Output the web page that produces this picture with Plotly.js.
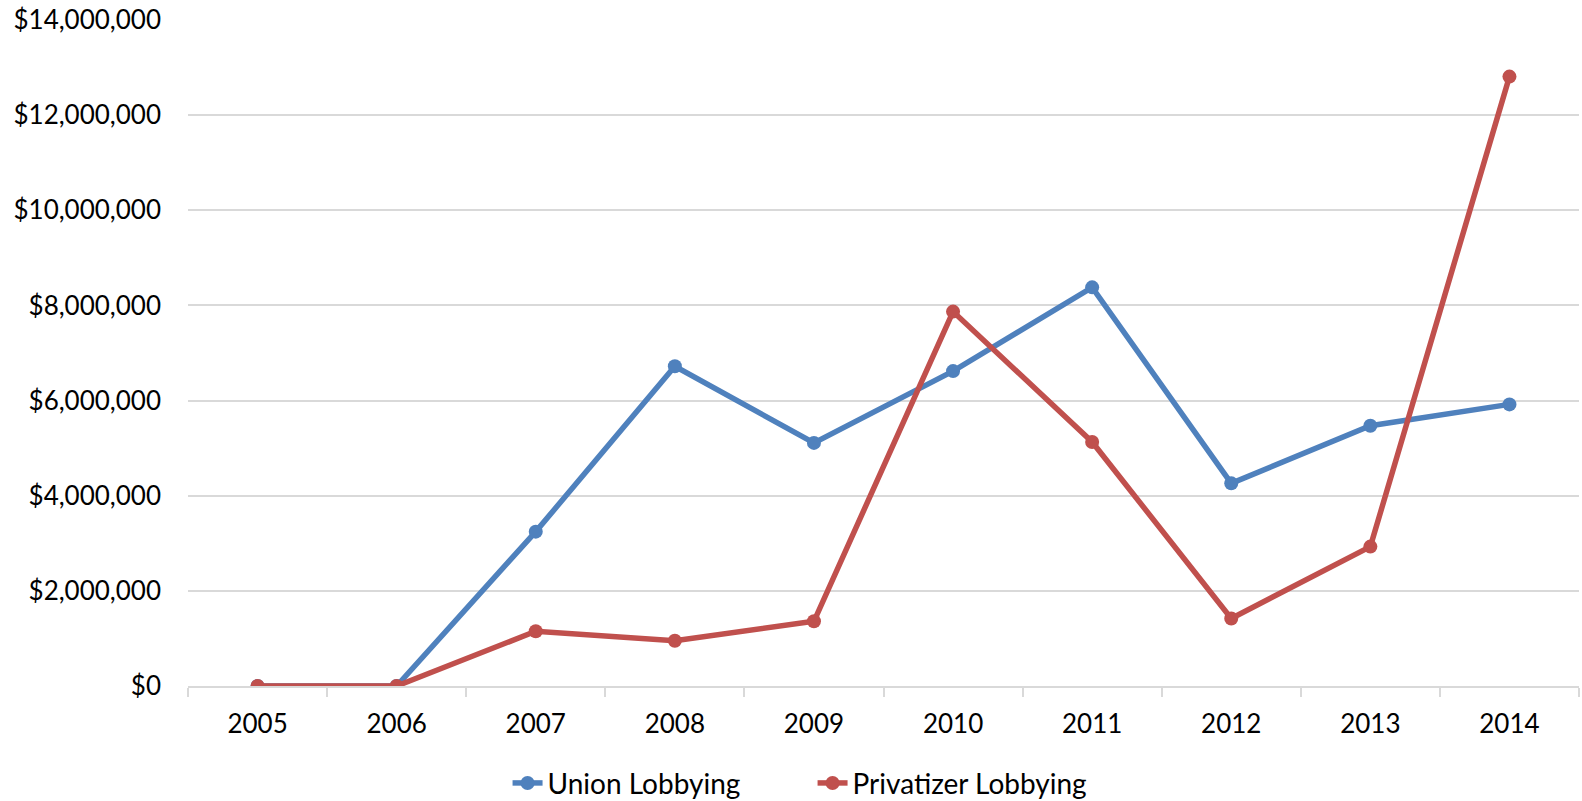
<!DOCTYPE html>
<html>
<head>
<meta charset="utf-8">
<script src="https://cdn.plot.ly/plotly-3.0.1.min.js"></script>
<style>html,body{margin:0;padding:0;background:#fff;}#chart{width:1582px;height:801px;}</style>
</head>
<body>
<div id="chart"></div>
<script>
const years = ["2005","2006","2007","2008","2009","2010","2011","2012","2013","2014"];
const unionLobbying = [0, 0, 3245000, 6720000, 5110000, 6620000, 8380000, 4260000, 5470000, 5920000];
const privatizerLobbying = [0, 0, 1150000, 950000, 1360000, 7870000, 5130000, 1420000, 2930000, 12810000];
const seriesNames = ["Union Lobbying", "Privatizer Lobbying"];
const yTicks = [0, 2000000, 4000000, 6000000, 8000000, 10000000, 12000000, 14000000];

const font = {family: "Lato, 'Open Sans', sans-serif", size: 26, color: "#000"};
const legendFont = {family: "Lato, 'Open Sans', sans-serif", size: 28, color: "#000"};

const traces = [
  {x: years, y: unionLobbying, name: seriesNames[0], type: "scatter", mode: "lines+markers",
   line: {color: "#4F81BD", width: 5.5}, marker: {color: "#4F81BD", size: 14}},
  {x: years, y: privatizerLobbying, name: seriesNames[1], type: "scatter", mode: "lines+markers",
   line: {color: "#C0504D", width: 5.5}, marker: {color: "#C0504D", size: 14}}
];

const layout = {
  width: 1582, height: 801,
  margin: {l: 188, r: 3, t: 20, b: 115, autoexpand: false},
  paper_bgcolor: "#fff", plot_bgcolor: "#fff",
  font: font,
  showlegend: true,
  legend: {orientation: "h", x: 0.449, xanchor: "center", y: -0.146, yanchor: "middle", font: legendFont,
    entrywidth: 260, entrywidthmode: "pixels"},
  xaxis: {type: "category", range: [-0.5, 9.5], showgrid: false, showline: true, linecolor: "#D9D9D9", linewidth: 2,
    ticks: "outside", tickson: "boundaries", ticklen: 9, tickcolor: "#D9D9D9", tickwidth: 2, tickfont: font,
    zeroline: false, ticklabelstandoff: 14, automargin: false},
  yaxis: {range: [0, 14000000], tickvals: yTicks, tickformat: "$,.0f", showgrid: true, gridcolor: "#D9D9D9", gridwidth: 2,
    zeroline: false, showline: false, ticks: "", tickfont: font, ticklabelstandoff: 26, automargin: false}
};

Plotly.newPlot("chart", traces, layout, {displayModeBar: false, staticPlot: true});
</script>
</body>
</html>
